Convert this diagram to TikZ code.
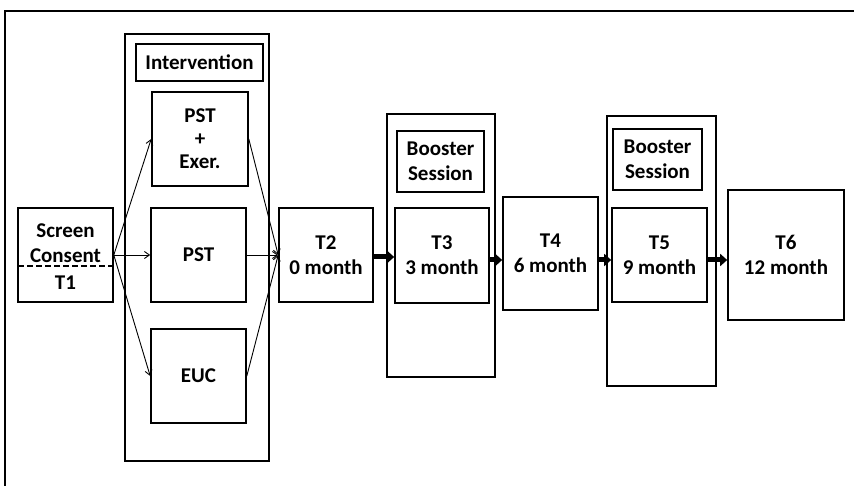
\documentclass[tikz,border=0pt]{standalone}
\usepackage{fontspec}
\setmainfont{Carlito}
\usetikzlibrary{arrows.meta}
\tikzset{
  box/.style={draw, line width=1.6pt, inner sep=0pt, align=center,
    font=\fontsize{21pt}{25pt}\selectfont\bfseries},
  lbl/.style={inner sep=0pt, align=center,
    font=\fontsize{21pt}{25pt}\selectfont\bfseries},
  thin arrow/.style={line width=0.9pt, -{Straight Barb[length=5pt,width=7pt]}},
  fat arrow/.style={line width=5pt, -{Triangle[length=7pt,width=12pt]}},
}
\begin{document}
\begin{tikzpicture}[x=1pt,y=-1pt]
\useasboundingbox (0,0) rectangle (854,486);
% outer frame (cropped)
\draw[line width=1.5pt] (5,486) -- (5,11) -- (854,11);

% Screen / Consent / T1
\node[box, minimum width=95pt, minimum height=94pt] (screen) at (65.5,255) {};
\node[lbl] (screentxt) at (65.5,243) {Screen\\Consent};
\node[lbl] (t1) at (65.5,283) {T1};
\draw[line width=2.5pt, dash pattern=on 6pt off 3pt] (18,266) coordinate (dl) -- (113,266) coordinate (dr);

% Intervention
\node[box, minimum width=144pt, minimum height=427pt] (interv) at (197,247.5) {};
\node[box, minimum width=127pt, minimum height=37pt] (intlabel) at (199.5,62.5) {Intervention};
\node[box, minimum width=96pt, minimum height=94pt, font=\fontsize{21pt}{23pt}\selectfont\bfseries] (pstex) at (200,139) {PST\\+\\Exer.};
\node[box, minimum width=95pt, minimum height=94pt] (pst) at (198.5,255) {PST};
\node[box, minimum width=95pt, minimum height=94pt] (euc) at (198.5,376) {EUC};

% T2
\node[box, minimum width=94pt, minimum height=94pt] (t2) at (326,255) {T2\\0 month};

% Booster 1 / T3
\node[box, minimum width=108pt, minimum height=263pt] (boost1) at (441,245.5) {};
\node[box, minimum width=87pt, minimum height=61pt] (blabel1) at (440.5,161.5) {Booster\\Session};
\node[box, minimum width=94pt, minimum height=95pt] (t3) at (442,255.5) {T3\\3 month};

% T4
\node[box, minimum width=95pt, minimum height=113pt] (t4) at (550.5,253.5) {T4\\6 month};

% Booster 2 / T5
\node[box, minimum width=109pt, minimum height=270pt] (boost2) at (661.5,251) {};
\node[box, minimum width=89pt, minimum height=61pt] (blabel2) at (657.5,159.5) {Booster\\Session};
\node[box, minimum width=95pt, minimum height=94pt] (t5) at (659.5,255) {T5\\9 month};

% T6
\node[box, minimum width=116pt, minimum height=130pt] (t6) at (786,255) {T6\\12 month};

% thin arrows
\draw[thin arrow] (screen.east) -- (pstex.west);
\draw[thin arrow] (screen.east) -- (pst.west);
\draw[thin arrow] (screen.east) -- (euc.west);
\draw[thin arrow] (pstex.east) -- (t2.west);
\draw[thin arrow] (pst.east) -- (t2.west);
\draw[thin arrow] (euc.east) -- (t2.west);

% fat arrows
\draw[fat arrow] ([yshift=-2pt]t2.east) -- ([yshift=-1.5pt]t3.west);
\draw[fat arrow] ([yshift=-4.5pt]t3.east) -- ([yshift=-6.5pt]t4.west);
\draw[fat arrow] ([yshift=-6.5pt]t4.east) -- ([yshift=-5pt]t5.west);
\draw[fat arrow] ([yshift=-5pt]t5.east) -- ([yshift=-5pt]t6.west);
\end{tikzpicture}
\end{document}
